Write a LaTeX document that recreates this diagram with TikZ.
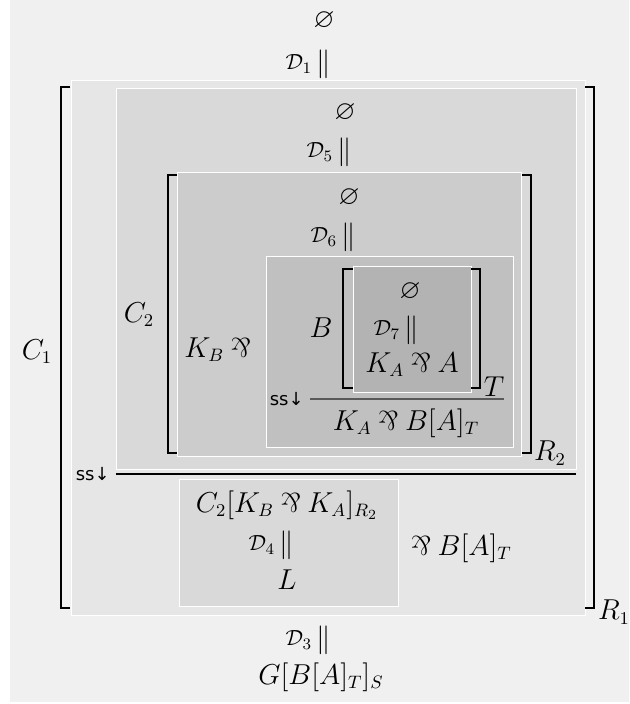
\documentclass[tikz,border=0pt]{standalone}
\usepackage{amsmath,amssymb}
\usepackage{fontspec}
\newfontfamily\rulefont{DejaVu Sans}
\usepackage{tikz}
\usetikzlibrary{positioning}
\definecolor{bgshade}{HTML}{F0F0F0}
\definecolor{shadeone}{HTML}{E6E6E6}
\definecolor{shadetwo}{HTML}{D9D9D9}
\definecolor{shadethree}{HTML}{CCCCCC}
\definecolor{shadefour}{HTML}{C0C0C0}
\definecolor{shadefive}{HTML}{B3B3B3}
\newcommand{\parrop}{\mathbin{\rotatebox[origin=c]{180}{$\&$}}}

\begin{document}
\begin{tikzpicture}[x=0.5pt, y=-0.5pt,
    layer/.style={draw=white, line width=0.5pt},
    brk/.style={line width=1.1pt},
    term/.style={inner sep=0pt, font=\fontsize{13.5}{16}\selectfont},
    dlab/.style={inner sep=0pt, font=\fontsize{11}{13}\selectfont},
    ruletag/.style={inner sep=0pt, font=\rulefont\fontsize{9}{10}\selectfont}]
    \useasboundingbox (0,0) rectangle (629,704);
    \fill[bgshade] (10,0) rectangle (629,702);

    % nested boxes
    \draw[layer, fill=shadeone] (71,81) rectangle (585,615);
    \draw[layer, fill=shadetwo] (116,89) rectangle (576,469);
    \draw[layer, fill=shadethree] (177,173) rectangle (521,456);
    \draw[layer, fill=shadefour] (266,257) rectangle (513,447);
    \draw[layer, fill=shadefive] (353,267) rectangle (471,392);
    \draw[layer, fill=shadetwo] (179,479) rectangle (398,606);

    % brackets
    \draw[brk] (70,87) -- (61,87) -- (61,608) -- (70,608);
    \draw[brk] (585,87) -- (594,87) -- (594,608) -- (585,608);
    \draw[brk] (177,175) -- (168,175) -- (168,453) -- (177,453);
    \draw[brk] (522,175) -- (531,175) -- (531,453) -- (522,453);
    \draw[brk] (353,269) -- (343,269) -- (343,388) -- (353,388);
    \draw[brk] (471,269) -- (480,269) -- (480,388) -- (471,388);

    % top chain
    \node[term] (e1) at (324,21) {$\varnothing$};
    \node[term] (q1) at (324,64) {$\|$};
    \node[dlab, left=2pt of q1] (d1) {$\mathcal{D}_1$};
    \node[term] (e5) at (345,113) {$\varnothing$};
    \node[term] (q5) at (345,152) {$\|$};
    \node[dlab, left=2pt of q5] (d5) {$\mathcal{D}_5$};
    \node[term] (e6) at (349,198) {$\varnothing$};
    \node[term] (q6) at (349,237) {$\|$};
    \node[dlab, left=2pt of q6] (d6) {$\mathcal{D}_6$};

    % contexts
    \node[term] (c1) at (37,352) {$C_1$};
    \node[term] (c2) at (139,315) {$C_2$};
    \node[term] (kb) at (221,350) {$K_B \parrop{}$};
    \node[term] (b) at (321,328) {$B$};

    % innermost box
    \node[term] (e7) at (410,292) {$\varnothing$};
    \node[term] (q7) at (412,330) {$\|$};
    \node[dlab, left=2pt of q7] (d7) {$\mathcal{D}_7$};
    \node[term] (ka) at (412,365) {$K_A \parrop A$};
    \node[term] (t) at (494,387) {$T$};

    % inner rule
    \coordinate (r1a) at (310,399);
    \coordinate (r1b) at (504,399);
    \draw[line width=0.6pt, black!65] (r1a) -- (r1b);
    \node[ruletag, left=3pt of r1a] (ss1) {ss↓};
    \node[term] (kab) at (406,423) {$K_A \parrop B[A]_T$};
    \node[term] (r2) at (550,453) {$R_2$};

    % outer rule
    \coordinate (r2a) at (116,474);
    \coordinate (r2b) at (576,474);
    \draw[line width=0.6pt] (r2a) -- (r2b);
    \node[ruletag, left=3pt of r2a] (ss2) {ss↓};

    % lower box
    \node[term] (c2k) at (287,505) {$C_2[K_B \parrop K_A]_{R_2}$};
    \node[term] (q4) at (287,545) {$\|$};
    \node[dlab, left=2pt of q4] (d4) {$\mathcal{D}_4$};
    \node[term] (l) at (287,580) {$L$};
    \node[term] (pb) at (458,548) {${}\parrop B[A]_T$};
    \node[term] (r1) at (614,612) {$R_1$};

    % bottom chain
    \node[term] (q3) at (324,640) {$\|$};
    \node[dlab, left=2pt of q3] (d3) {$\mathcal{D}_3$};
    \node[term] (g) at (321,677) {$G[B[A]_T]_S$};
\end{tikzpicture}
\end{document}
